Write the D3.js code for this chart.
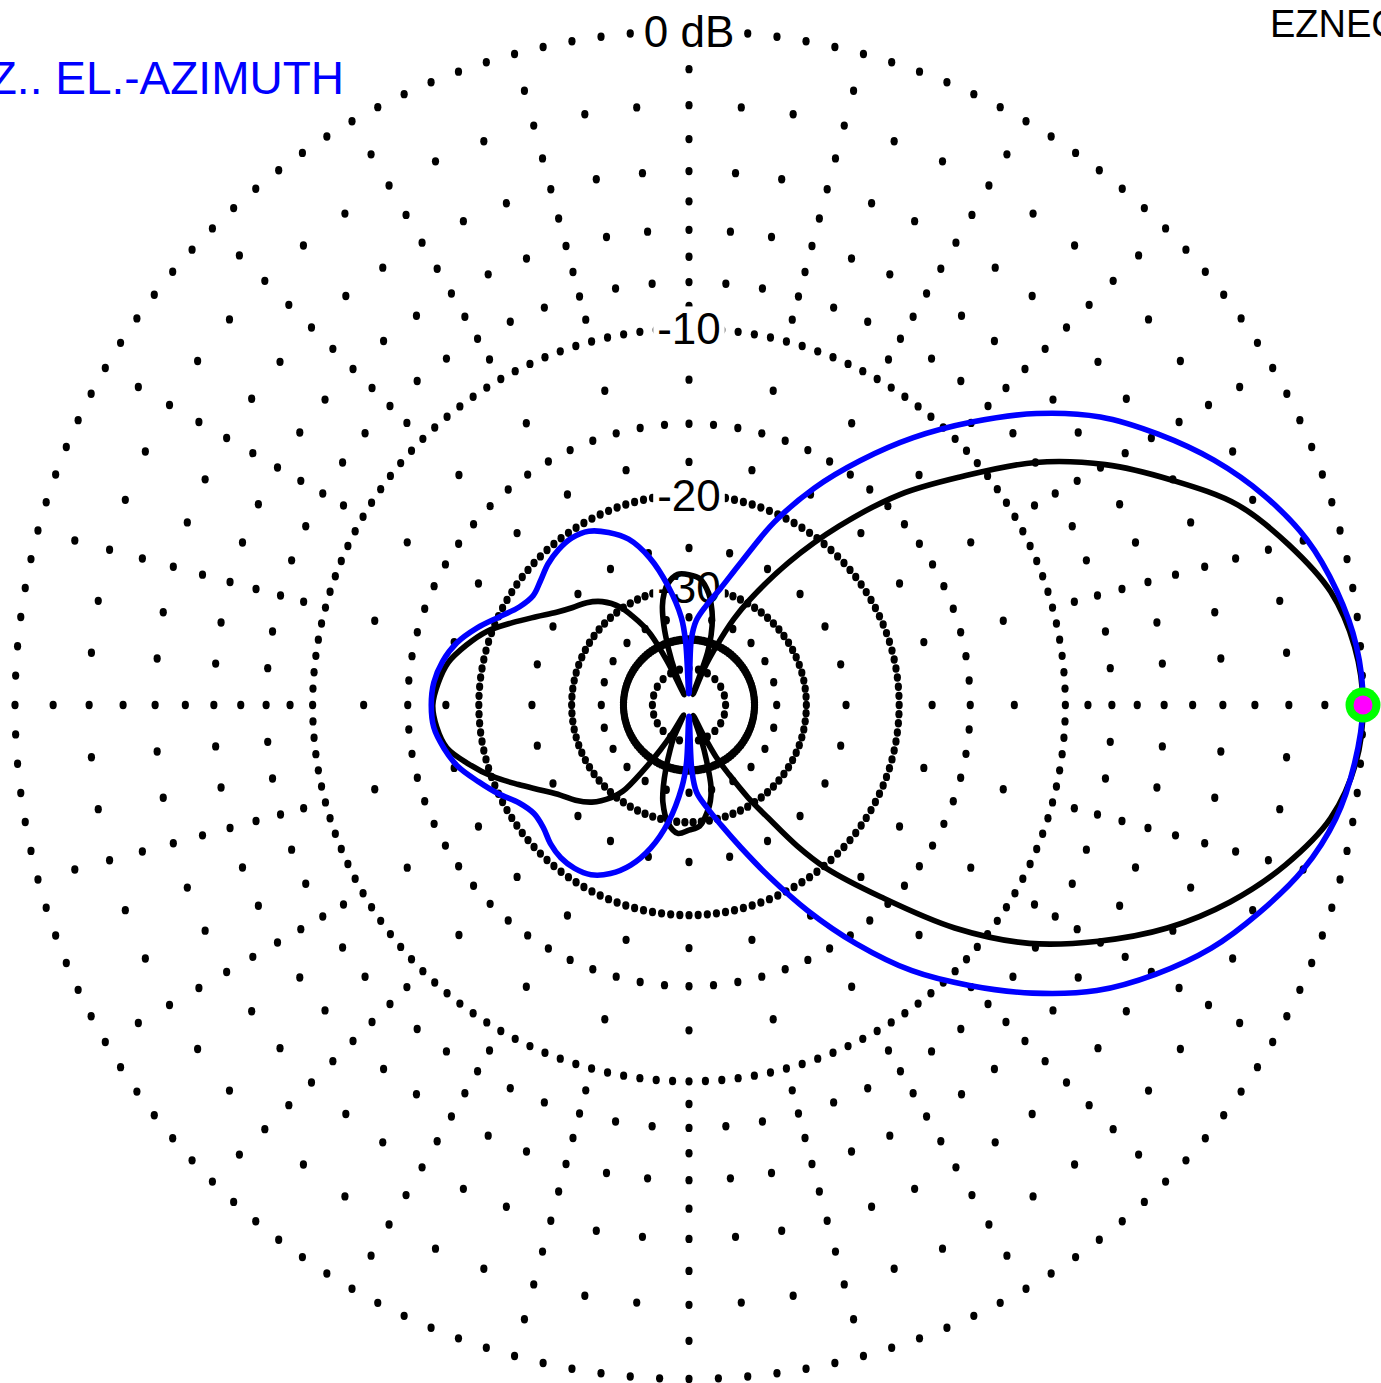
<!DOCTYPE html>
<html>
<head>
<meta charset="utf-8">
<script src="https://cdn.jsdelivr.net/npm/d3@7"></script>
<style>
  body { margin: 0; background: #fff; }
  svg { display: block; }
</style>
</head>
<body>
<div id="chart"></div>
<script>
// grid: rings drawn as dots, spokes every 5 degrees
const ringDb = [0, -10, -15, -20, -30, -40];
const ringStep = [2.5, 2.5, 5, 2.5, 4, 2.5];      // degrees between ring dots
const majorSpokeDb = [-1, -2, -3, -4, -5, -6, -7, -8, -9, -12.5, -17.5, -25, -35, -50]; // spokes at 15 deg steps
const minorSpokeDb = [-2, -4, -6, -8];            // the other 5 deg spokes
const labelDb = [0, -10, -20, -30];
const labelText = ["0 dB", "-10", "-20", "-30"];

// traces (azimuth in degrees, counter-clockwise from the right; gain in dB)
const blueAz = [0, 5, 10, 15, 20, 25, 30, 35, 40, 45, 50, 55, 60, 65, 70, 75, 80, 85, 88, 90, 93, 95,
  100, 105, 110, 115, 120, 125, 130, 135, 140, 145, 150, 155, 160, 165, 170, 175, 180,
  185, 190, 195, 200, 205, 210, 215, 220, 225, 230, 235, 240, 245, 250, 255, 260, 265, 267.5, 270,
  272.5, 275, 280, 285, 290, 295, 300, 305, 310, 315, 320, 325, 330, 335, 340, 345, 350, 355];
const blueDb = [0, -0.1, -0.42, -0.9, -1.65, -2.6, -3.75, -5.05, -6.8, -8.95, -11.3, -14.0, -17.0, -20.7, -25.6, -29.6, -32.5, -35.5, -40, -70, -41, -35,
  -29.5, -25.5, -23.0, -21.7, -20.8, -20.5, -20.6, -20.9, -21.4, -21.7, -21.2, -20.1, -18.8, -17.7, -17.0, -16.6, -16.5,
  -16.6, -17.1, -17.8, -18.9, -20.0, -21.2, -21.8, -21.7, -21.2, -20.9, -20.9, -21.2, -22.1, -23.6, -26.0, -29.8, -36, -42, -70,
  -40, -35, -32.0, -29.0, -25.6, -21.8, -17.9, -14.4, -11.4, -9.1, -7.0, -5.2, -3.85, -2.7, -1.8, -1.0, -0.45, -0.15];

const blackAz = [0, 5, 10, 15, 20, 25, 30, 35, 40, 45, 50, 55, 60, 62.5, 65, 67.5, 69, 70.5, 72.5, 75, 77.5, 80, 85,
  90, 95, 100, 102.5, 105, 107.5, 110, 112.5, 114.5, 116.5, 118.5, 120, 122.5, 125, 130, 135, 140, 145, 150, 155,
  160, 165, 170, 175, 180, 185, 190, 195, 200, 205, 210, 215, 220, 225, 230, 232.5, 235, 237.5, 239.5, 242,
  245, 247.5, 250, 252.5, 255, 260, 265, 270, 275, 280, 282.5, 285, 287.5, 289.5, 292, 295.5, 297.5, 300,
  302.5, 305, 307.5, 310, 315, 320, 325, 330, 335, 340, 345, 350, 355];
const blackDb = [0, -0.15, -0.58, -1.42, -2.45, -4.05, -5.8, -8.0, -11.0, -14.05, -18.2, -23.2, -29.4, -33.3, -40, -49, -70, -43, -38, -34.5, -32.3, -30.6, -28.7,
  -28.2, -28.1, -29.2, -30.4, -32.3, -35.8, -41.5, -50, -70, -45, -36.5, -34.3, -31.8, -29.7, -27.6, -26.4, -25.6, -24.5, -23.0, -21.3,
  -19.6, -18.4, -17.4, -16.9, -16.6, -16.8, -17.3, -18.6, -20.1, -21.9, -23.6, -25.0, -26.0, -27.3, -29.5, -31.3, -36.5, -43.5, -52, -70,
  -50, -44.5, -39.5, -35.5, -32.6, -29.6, -28.4, -28.9, -29.4, -31.5, -33, -35.5, -42, -50, -70, -52, -42, -36.5,
  -31.2, -27.3, -22.9, -19.8, -15.6, -11.4, -8.3, -6.1, -4.2, -2.7, -1.5, -0.58, -0.12];

const W = 1381, H = 1383;
const cx = 689, cy = 705, R = 674;

// ARRL log scale: radius shrinks to 0.89 every 2 dB
const rScale = d3.scaleLog()
  .domain([R * Math.pow(0.89, 40), R])
  .range([-80, 0]);
const radius = db => rScale.invert(db);

// azimuth 0 at 3 o'clock, counter-clockwise
const aScale = d3.scaleLinear()
  .domain([0, 360])
  .range([Math.PI / 2, Math.PI / 2 - 2 * Math.PI]);

const svg = d3.select("#chart").append("svg")
  .attr("width", W)
  .attr("height", H)
  .style("font-family", "'Liberation Sans', Arial, sans-serif");

const g = svg.append("g").attr("transform", `translate(${cx},${cy})`);

// collect grid dots
let dots = [];
ringDb.forEach((db, i) => {
  d3.range(0, 360, ringStep[i]).forEach(az => dots.push({ az, db }));
});
d3.range(0, 360, 5).forEach(az => {
  let list = (az % 15 === 0) ? majorSpokeDb : minorSpokeDb;
  list.forEach(db => dots.push({ az, db }));
});

g.append("g").selectAll("ellipse")
  .data(dots)
  .join("ellipse")
  .attr("cx", d => d3.pointRadial(aScale(d.az), radius(d.db))[0])
  .attr("cy", d => d3.pointRadial(aScale(d.az), radius(d.db))[1])
  .attr("rx", 3.6)
  .attr("ry", 4.2)
  .attr("fill", "#000");

// ring labels with white background
labelDb.forEach((db, i) => {
  let y = -radius(db);
  let t = g.append("text")
    .attr("x", 0)
    .attr("y", y + 15.8)
    .attr("text-anchor", "middle")
    .attr("font-size", 44)
    .attr("fill", "#000")
    .text(labelText[i]);
  let bb = t.node().getBBox();
  g.insert("rect", () => t.node())
    .attr("x", bb.x - 4)
    .attr("y", bb.y + 2)
    .attr("width", bb.width + 8)
    .attr("height", bb.height - 4)
    .attr("fill", "#fff");
});

// traces
const line = d3.lineRadial()
  .angle(d => aScale(d.az))
  .radius(d => radius(d.db))
  .curve(d3.curveCatmullRomClosed.alpha(0.5));

const blackPts = blackAz.map((az, i) => ({ az, db: blackDb[i] }));
const bluePts = blueAz.map((az, i) => ({ az, db: blueDb[i] }));

g.append("path")
  .datum(blackPts)
  .attr("d", line)
  .attr("fill", "none")
  .attr("stroke", "#000")
  .attr("stroke-width", 5.6)
  .attr("stroke-linejoin", "round");

g.append("path")
  .datum(bluePts)
  .attr("d", line)
  .attr("fill", "none")
  .attr("stroke", "#0000ff")
  .attr("stroke-width", 5.6)
  .attr("stroke-linejoin", "round");

// maximum marker
let m = d3.pointRadial(aScale(0), radius(0));
g.append("circle").attr("cx", m[0]).attr("cy", m[1]).attr("r", 17.5).attr("fill", "#00ff00");
g.append("circle").attr("cx", m[0]).attr("cy", m[1]).attr("r", 9.5).attr("fill", "#ff00ff");

// titles
svg.append("text")
  .attr("x", 344)
  .attr("y", 94)
  .attr("text-anchor", "end")
  .attr("font-size", 46)
  .attr("fill", "#0000ff")
  .text("Z.. EL.-AZIMUTH");

svg.append("text")
  .attr("x", 1270)
  .attr("y", 37)
  .attr("font-size", 38)
  .attr("fill", "#000")
  .text("EZNEC");
</script>
</body>
</html>
